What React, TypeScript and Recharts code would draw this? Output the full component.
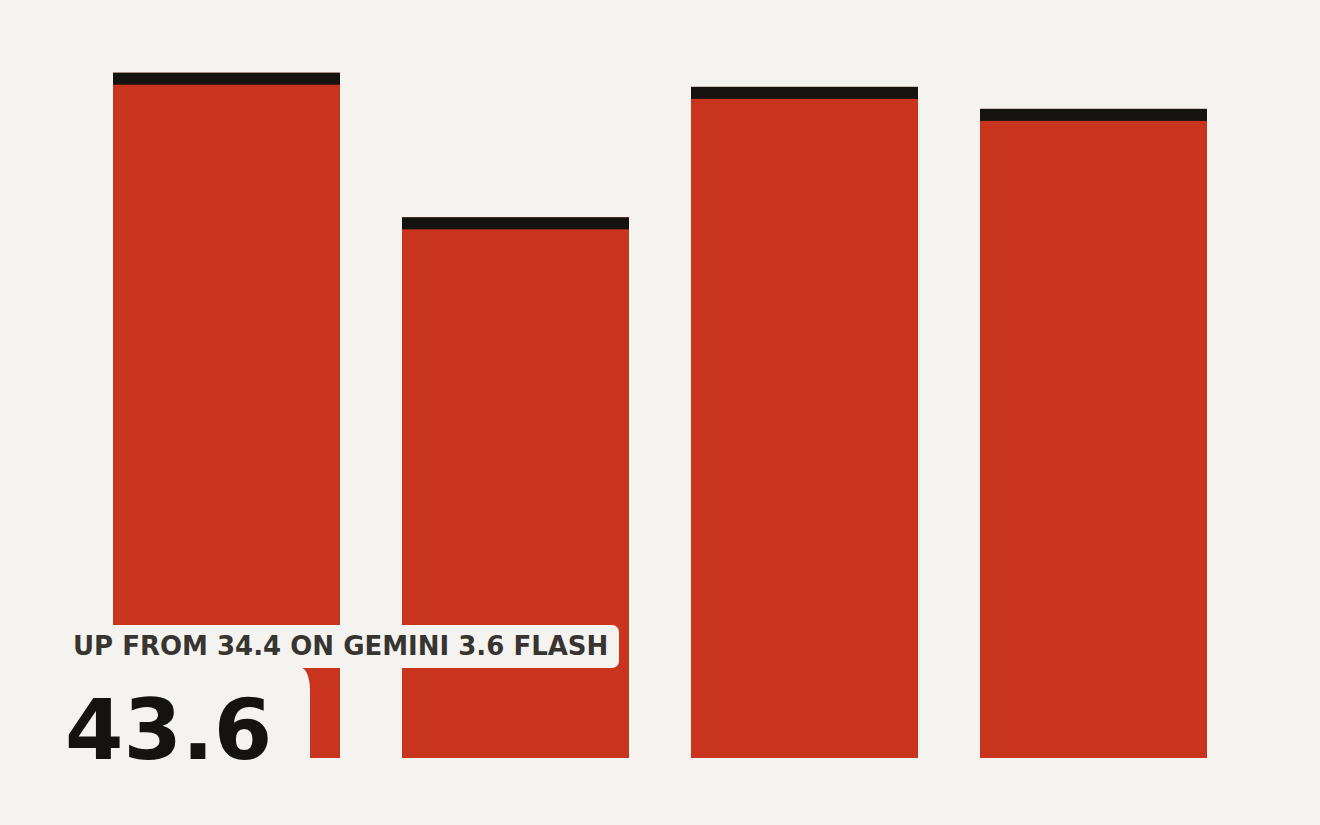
import { BarChart, Bar, XAxis, YAxis } from "recharts";

const categories = ["Gemini 3.7 Flash", "Gemini 3.6 Flash", "Model C", "Model D"];
const scores = [43.6, 34.4, 42.7, 41.3];
const yDomain: [number, number] = [0, 46];

const data = categories.map((name, i) => ({ name, score: scores[i] }));

const BG = "#F4F3EF";
const RED = "#C9341F";
const INK = "#14130F";

function CappedBar(props: any) {
  const { x, y, width, height } = props;
  if (height <= 0) return null;
  return (
    <g>
      <rect x={x} y={y} width={width} height={height} fill={RED} />
      <rect x={x} y={y} width={width} height={12} fill={INK} />
    </g>
  );
}

// callout drawn over the first bar only
function Callout(props: any) {
  const { x, y, height, index } = props;
  if (index !== 0) return null;
  const bottom = y + height;
  const left = x - 63;
  const boxRight = x + 197;
  const labelTop = bottom - 133;
  const labelBottom = bottom - 90;
  return (
    <g>
      <path
        d={`M${left},${labelBottom - 2} L${boxRight - 14},${labelBottom - 2} Q${boxRight},${labelBottom - 2} ${boxRight},${labelBottom + 24} L${boxRight},${bottom + 4} L${left},${bottom + 4} Z`}
        fill={BG}
      />
      <rect x={x - 52} y={labelTop} width={558} height={labelBottom - labelTop} rx={7} fill={BG} />
      <text x={x - 40} y={bottom - 103} fontFamily="DejaVu Sans" fontWeight="bold" fontSize={26} fill="#383531">
        {`UP FROM ${scores[1]} ON ${categories[1].toUpperCase()}`}
      </text>
      <text x={x - 48} y={bottom + 1} fontFamily="DejaVu Sans" fontWeight="bold" fontSize={84} fill={INK}>
        {scores[0]}
      </text>
    </g>
  );
}

export default function App() {
  return (
    <div style={{ position: "fixed", left: 0, top: 0, width: 1320, height: 825, background: BG }}>
      <BarChart width={1320} height={825} data={data} margin={{ top: 35, right: 82, bottom: 67, left: 82 }}>
        <XAxis dataKey="name" hide />
        <YAxis domain={yDomain} hide />
        <Bar dataKey="score" barSize={227} shape={<CappedBar />} label={<Callout />} isAnimationActive={false} />
      </BarChart>
    </div>
  );
}
